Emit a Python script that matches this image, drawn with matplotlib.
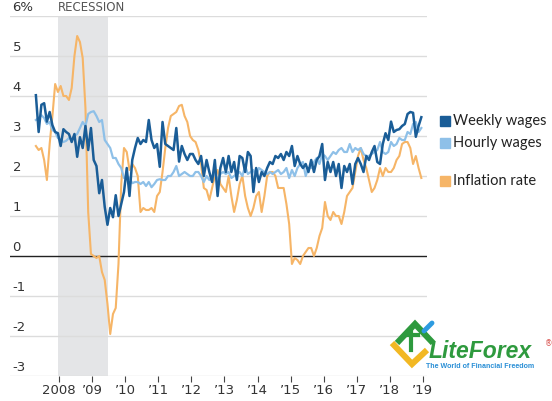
import numpy as np
import matplotlib
matplotlib.use("Agg")
import matplotlib.pyplot as plt
from matplotlib.transforms import blended_transform_factory

# monthly series, Apr 2007 .. Dec 2018, year-over-year % change
weekly_wages = [
    # 2007 Apr-Dec
    4.02, 3.10, 3.78, 3.82, 3.36, 3.60, 3.27, 3.10, 3.07,
    # 2008
    2.75, 3.17, 3.10, 3.05, 2.85, 3.05, 2.48, 2.97, 2.70, 3.25, 2.65, 3.20,
    # 2009
    2.40, 2.25, 1.57, 1.90, 1.23, 0.78, 1.20, 0.97, 1.52, 1.00, 1.30, 1.60,
    # 2010
    2.20, 1.50, 2.40, 2.70, 2.95, 2.80, 2.90, 2.85, 3.40, 2.90, 2.70, 2.80,
    # 2011
    2.23, 3.35, 2.80, 2.75, 2.70, 2.65, 3.20, 2.36, 2.75, 2.55, 2.40, 2.55,
    # 2012
    2.55, 2.40, 2.30, 2.50, 2.00, 2.40, 2.10, 1.85, 2.40, 1.50, 2.20, 2.45,
    # 2013
    2.10, 2.50, 2.10, 2.35, 1.90, 2.50, 2.45, 2.10, 2.60, 2.50, 1.60, 2.20,
    # 2014
    1.85, 2.10, 2.00, 2.20, 2.35, 2.30, 2.50, 2.45, 2.55, 2.40, 2.60, 2.50,
    # 2015
    2.75, 2.25, 2.50, 2.30, 2.20, 2.30, 2.10, 2.40, 2.10, 2.40, 2.50, 2.80,
    # 2016
    1.90, 2.35, 2.10, 2.35, 2.00, 2.30, 1.70, 2.25, 2.10, 2.30, 1.80, 2.30,
    # 2017
    2.45, 2.30, 2.10, 2.50, 2.40, 2.60, 2.75, 2.35, 2.30, 2.80, 3.07, 2.90,
    # 2018
    3.36, 3.10, 3.15, 3.17, 3.25, 3.30, 3.55, 3.60, 3.58, 2.98, 3.25, 3.47,
]

hourly_wages = [
    3.40, 3.45, 3.52, 3.45, 3.30, 3.35, 3.15, 3.10, 2.95,
    2.90, 2.85, 2.88, 2.95, 2.90, 3.00, 3.05, 3.20, 3.35, 3.25, 3.55, 3.60,
    3.62, 3.50, 3.35, 3.40, 2.90, 2.80, 2.70, 2.45, 2.45, 2.30, 2.20, 1.95,
    2.00, 1.95, 1.82, 1.85, 1.85, 1.80, 1.85, 1.75, 1.85, 1.72, 1.80, 1.90,
    1.92, 1.90, 1.90, 2.00, 2.00, 2.10, 2.25, 2.00, 2.05, 2.10, 2.05, 2.00,
    2.00, 2.10, 2.10, 2.00, 1.85, 2.00, 1.90, 1.95, 2.05, 1.90, 2.05, 2.10,
    2.05, 2.10, 1.95, 2.00, 2.05, 2.10, 2.00, 2.25, 2.05, 2.10, 2.15, 2.00,
    2.20, 2.15, 2.10, 2.05, 2.10, 2.05, 2.10, 2.15, 2.05, 2.10, 2.20, 1.95,
    2.15, 2.00, 2.20, 2.30, 2.35, 2.00, 2.20, 2.20, 2.35, 2.45, 2.30, 2.55,
    2.50, 2.40, 2.50, 2.60, 2.55, 2.65, 2.70, 2.60, 2.60, 2.80, 2.60, 2.70,
    2.65, 2.70, 2.55, 2.50, 2.50, 2.55, 2.60, 2.65, 2.85, 2.60, 2.55, 2.60,
    2.85, 2.75, 2.80, 2.95, 2.90, 2.90, 3.10, 3.05, 3.30, 3.35, 3.10, 3.20,
]

inflation_rate = [
    2.75, 2.65, 2.70, 2.40, 1.90, 2.80, 3.50, 4.30, 4.10,
    4.25, 4.00, 4.00, 3.90, 4.20, 5.00, 5.50, 5.35, 4.95, 3.70, 1.10, 0.05,
    0.00, -0.05, 0.00, -0.40, -0.60, -1.20, -1.95, -1.45, -1.30, -0.20, 1.80, 2.70,
    2.60, 2.15, 2.30, 2.20, 2.00, 1.10, 1.20, 1.15, 1.15, 1.20, 1.10, 1.50,
    1.60, 2.10, 2.70, 3.20, 3.50, 3.55, 3.60, 3.75, 3.78, 3.50, 3.35, 3.00,
    2.90, 2.85, 2.65, 2.30, 1.70, 1.65, 1.40, 1.70, 2.00, 2.15, 1.80, 1.70,
    1.60, 2.00, 1.50, 1.10, 1.40, 1.80, 2.00, 1.50, 1.20, 1.00, 1.20, 1.50,
    1.60, 1.10, 1.50, 2.00, 2.10, 2.10, 2.00, 1.70, 1.70, 1.70, 1.30, 0.80,
    -0.20, -0.05, -0.10, -0.20, 0.00, 0.10, 0.20, 0.20, 0.00, 0.20, 0.50, 0.70,
    1.35, 1.00, 0.90, 1.10, 1.00, 1.00, 0.80, 1.10, 1.50, 1.60, 1.70, 2.10,
    2.50, 2.70, 2.40, 2.20, 1.90, 1.60, 1.70, 1.90, 2.20, 2.00, 2.20, 2.10,
    2.10, 2.20, 2.40, 2.50, 2.80, 2.85, 2.85, 2.70, 2.30, 2.50, 2.20, 1.95,
]

start_year = 2007
start_month = 4
recession_start = 2007.96   # Dec 2007
recession_end = 2009.46     # Jun 2009

y_ticks = [-3, -2, -1, 0, 1, 2, 3, 4, 5, 6]
y_labels = ["-3", "-2", "-1", "0", "1", "2", "3", "4", "5", "6%"]
x_ticks = list(range(2008, 2020))
x_labels = ["2008"] + ["\u2019%02d" % (y % 100) for y in x_ticks[1:]]

WEEKLY = "#1a5d97"
HOURLY = "#8ec0e8"
INFL = "#f6b567"
NARROW = ["Liberation Sans Narrow", "DejaVu Sans"]


def main():
    n = len(weekly_wages)
    months = np.arange(n)
    x = start_year + (start_month - 1 + months + 0.5) / 12.0

    fig = plt.figure(figsize=(5.52, 4.01), dpi=100)
    ax = fig.add_axes([10 / 552, 25 / 401, 417 / 552, 360 / 401])

    ax.axvspan(recession_start, recession_end, color="#e4e5e7", lw=0, zorder=0)

    for v in y_ticks:
        if v == 0:
            ax.axhline(v, color="#222222", lw=1.0, zorder=1)
        else:
            ax.axhline(v, color="#dcdcdc", lw=1.0, zorder=1)

    ax.plot(x, inflation_rate, color=INFL, lw=1.5, zorder=2)
    ax.plot(x, hourly_wages, color=HOURLY, lw=1.6, zorder=3)
    ax.plot(x, weekly_wages, color=WEEKLY, lw=1.8, zorder=4)

    ax.set_xlim(2006.508, 2019.13)
    ax.set_ylim(-3, 6)

    for s in ax.spines.values():
        s.set_visible(False)

    ax.set_yticks([])
    ax.set_xticks(x_ticks)
    ax.set_xticklabels(x_labels, family=NARROW, fontsize=9.5, color="#333333")
    ax.tick_params(axis="x", length=4, width=0.8, color="#444444", pad=2)

    trans = blended_transform_factory(ax.transAxes, ax.transData)
    for v, lab in zip(y_ticks, y_labels):
        ax.text(0.006, v + 0.06, lab, transform=trans, ha="left", va="bottom",
                family=NARROW, fontsize=9.5, color="#333333")

    ax.text(recession_start + 0.01, 6.06, "RECESSION", ha="left", va="bottom",
            family=NARROW, fontsize=8.5, color="#555555", clip_on=False)

    # overlay in pixel coordinates for legend and logo
    ov = fig.add_axes([0, 0, 1, 1], facecolor="none")
    ov.set_xlim(0, 552)
    ov.set_ylim(401, 0)
    ov.axis("off")

    legend_items = [("Weekly wages", WEEKLY, 121), ("Hourly wages", HOURLY, 143),
                    ("Inflation rate", INFL, 181)]
    for label, col, yy in legend_items:
        ov.plot([444.5], [yy], marker="s", ms=7.6, color=col, ls="none")
        ov.text(453, yy, label, va="center", ha="left", fontsize=10.5,
                family=["Lato", "DejaVu Sans"], color="#222222")

    # LiteForex logo (rough)
    ov.plot([392, 412, 427], [343, 364, 350], color="#f2b823", lw=4.4,
            solid_capstyle="butt", solid_joinstyle="miter")
    ov.plot([397, 415, 433], [343, 324, 343], color="#2e9a3e", lw=4.4,
            solid_capstyle="butt", solid_joinstyle="miter")
    ov.plot([405, 418], [335, 335], color="#2e9a3e", lw=3.0)
    ov.plot([411, 411], [331, 350], color="#2e9a3e", lw=3.0)
    ov.plot([424, 432], [331, 323], color="#2d9be0", lw=3.5, solid_capstyle="round")
    ov.text(429, 358, "LiteForex", ha="left", va="baseline", fontsize=16.5,
            fontweight="bold", style="italic", family="Liberation Sans", color="#2e9a3e")
    ov.text(545, 344, "\u00ae", ha="left", va="center", fontsize=5.5, color="#d9534f")
    ov.text(426, 367, "The World of Financial Freedom", ha="left", va="center",
            fontsize=5.1, fontweight="bold", family="Liberation Sans", color="#2a8fd6")

    fig.savefig("out.png", dpi=100)
    plt.close(fig)


if __name__ == "__main__":
    main()
